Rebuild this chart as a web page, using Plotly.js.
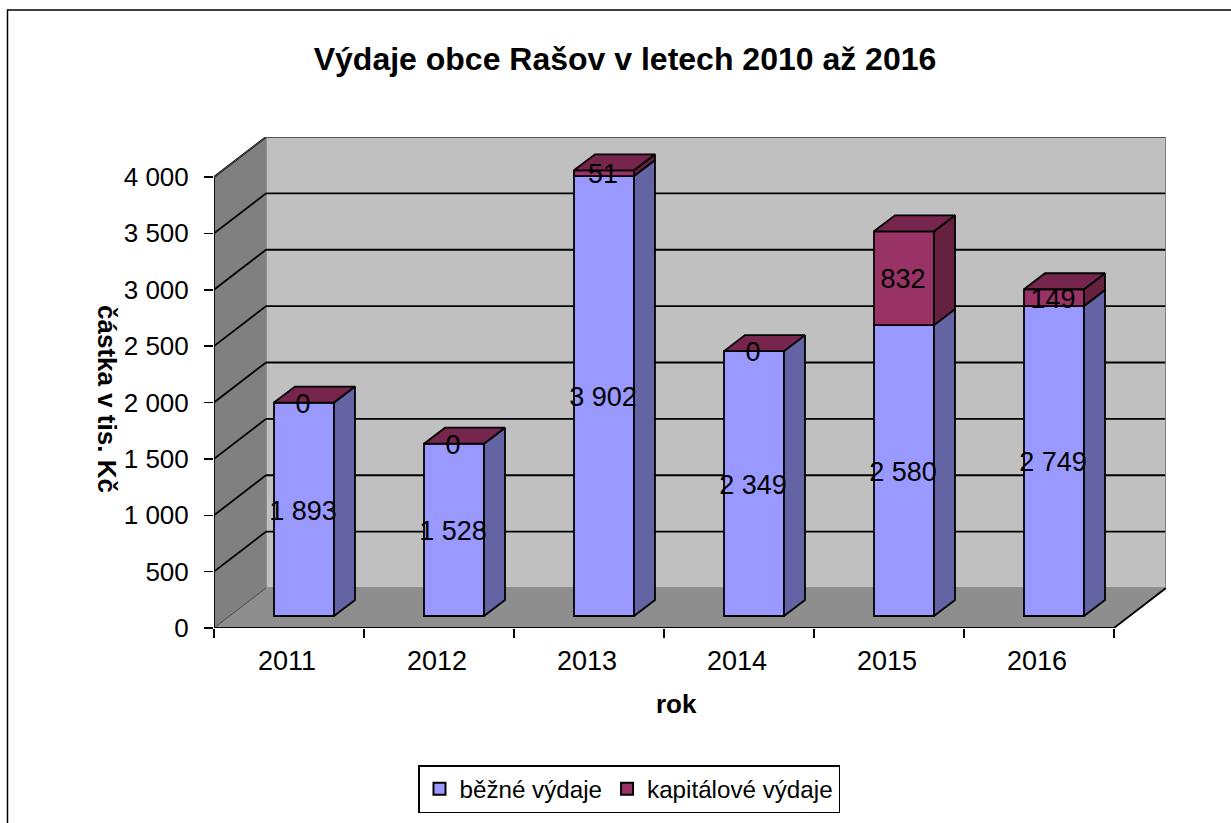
<!DOCTYPE html>
<html>
<head>
<meta charset="utf-8">
<script src="https://cdn.plot.ly/plotly-3.0.1.min.js"></script>
<style>html,body{margin:0;padding:0;background:#fff;overflow:hidden}#c{width:1231px;height:823px}</style>
</head>
<body>
<div id="c"></div>
<script>
const years = ['2011','2012','2013','2014','2015','2016'];
const bezne = [1893,1528,3902,2349,2580,2749];
const kapitalove = [0,0,51,0,832,149];
const yTicks = [0,500,1000,1500,2000,2500,3000,3500,4000];
const yTickLabels = ['0','500','1 000','1 500','2 000','2 500','3 000','3 500','4 000'];
const seriesNames = ['běžné výdaje','kapitálové výdaje'];

// pixel geometry of the oblique projection
const W=1231,H=823,L=214,T=137,R=1166,B=628;
const catPx=150, unitPx=451/4000;
const wallDx=(R-L-900)/catPx, wallDy=40/unitPx;      // depth of the whole box, in axis units
const barDx=15/catPx, barDy=12/unitPx;               // offset of bar front from front plane
const sideDx=21/catPx, sideDy=16/unitPx;             // bar depth
const barW=0.4;
const font='"Liberation Sans", Arial, sans-serif';
const xMin=-0.5, xMax=xMin+(R-L)/catPx, yMax=(B-T)/unitPx;
const xFront=xMin+6;

const ln='#000000';
function poly(xs,ys,fill,lineW,lineC){
  return {type:'path',xref:'x',yref:'y',layer:'below',
    path:'M'+xs.map((x,i)=>x+' '+ys[i]).join('L')+'Z',
    fillcolor:fill,line:{color:lineC||fill,width:lineW||0}};
}
function seg(x0,y0,x1,y1,w,c,layer){
  return {type:'line',xref:'x',yref:'y',layer:layer||'below',x0,y0,x1,y1,line:{color:c||ln,width:w||1.5}};
}
const shapes=[];
// back wall, side wall, floor
shapes.push(poly([xMin+wallDx,xMax,xMax,xMin+wallDx],[wallDy,wallDy,yMax,yMax],'#c0c0c0',1.5,'#808080'));
shapes.push(poly([xMin,xMin+wallDx,xMin+wallDx,xMin],[0,wallDy,yMax,4000],'#808080'));
shapes.push(poly([xMin,xFront,xMax,xMin+wallDx],[0,0,wallDy,wallDy],'#8e8e8e'));
// grid
yTicks.slice(1).forEach(v=>{
  shapes.push(seg(xMin,v,xMin+wallDx,v+wallDy,1.8));
  shapes.push(seg(xMin+wallDx,v+wallDy,xMax,v+wallDy,1.8));
});
shapes.push(seg(xMin,0,xMin+wallDx,wallDy,1,'#444444'));
shapes.push(seg(xMin+wallDx,yMax,xMax,yMax,2,'#555555'));
// axis lines
shapes.push(seg(xMin,0,xMin,4000,1.8));
shapes.push(seg(xMin,0,xFront,0,1.8));
shapes.push(seg(xFront,0,xMax,wallDy,1.8));
shapes.push(seg(xMax,wallDy,xMax,yMax,1.5,'#808080'));
shapes.push(seg(xMin,4000,xMin+wallDx,yMax,1,'#555555'));
// outer chart border, open on the right and bottom edges as cropped
const px=v=>(v-L)/(R-L), py=v=>(B-v)/(B-T);
shapes.push({type:'path',xref:'paper',yref:'paper',
  path:`M${px(7.5)} ${py(H+5)}L${px(7.5)} ${py(10)}L${px(W+5)} ${py(10)}`,
  line:{color:'#000',width:1.5}});

const cx=years.map((_,i)=>i+barDx);
const baseB=years.map(()=>barDy);
const baseK=bezne.map(v=>v+barDy);
const fmt=v=>String(v).replace(/\B(?=(\d{3})+$)/g,' ');

const traces=[];
traces.push({type:'bar',name:seriesNames[0],x:cx,y:bezne,base:baseB,width:barW,
  marker:{color:'#9999ff',line:{color:'#000',width:1.8}},hoverinfo:'skip'});
traces.push({type:'bar',name:seriesNames[1],x:cx,y:kapitalove,base:baseK,width:barW,
  marker:{color:'#993366',line:{color:'#000',width:1.8}},hoverinfo:'skip'});

function face(xs,ys,fill){
  traces.push({type:'scatter',mode:'lines',x:xs.concat(xs[0]),y:ys.concat(ys[0]),fill:'toself',
    fillcolor:fill,line:{color:'#000',width:1.8},showlegend:false,hoverinfo:'skip'});
}
years.forEach((_,i)=>{
  const x0=cx[i]-barW/2,x1=cx[i]+barW/2;
  const yb=barDy,ym=bezne[i]+barDy,yt=ym+kapitalove[i];
  face([x1,x1+sideDx,x1+sideDx,x1],[yb,yb+sideDy,ym+sideDy,ym],'#6464a5');
  if(kapitalove[i]>0) face([x1,x1+sideDx,x1+sideDx,x1],[ym,ym+sideDy,yt+sideDy,yt],'#66213f');
  face([x0,x1,x1+sideDx,x0+sideDx],[yt,yt,yt+sideDy,yt+sideDy],'#76264d');
});
const labelX=cx.map(v=>v-0.007);
const labelDrop=3.5/unitPx;   // optical centring of the data labels
traces.push({type:'scatter',mode:'text',showlegend:false,hoverinfo:'skip',cliponaxis:false,
  x:labelX,y:bezne.map((v,i)=>baseB[i]+v/2-labelDrop),text:bezne.map(fmt),textposition:'middle center',
  textfont:{family:font,size:27,color:'#000'}});
traces.push({type:'scatter',mode:'text',showlegend:false,hoverinfo:'skip',cliponaxis:false,
  x:labelX,y:kapitalove.map((v,i)=>baseK[i]+v/2-labelDrop),text:kapitalove.map(fmt),textposition:'middle center',
  textfont:{family:font,size:27,color:'#000'}});

const layout={
  width:W,height:H,autosize:false,
  paper_bgcolor:'#fff',plot_bgcolor:'rgba(0,0,0,0)',
  margin:{l:L,r:W-R,t:T,b:H-B,pad:0},
  barmode:'overlay',
  font:{family:font,color:'#000'},
  title:{text:'Výdaje obce Rašov v letech 2010 až 2016',font:{family:font,size:32,color:'#000',weight:'bold'},
    x:625/W,xanchor:'center',y:1-59/H,yanchor:'middle'},
  xaxis:{range:[xMin,xMax],showgrid:false,zeroline:false,showline:false,
    tickmode:'array',tickvals:years.map((_,i)=>i-0.013),ticktext:years,ticks:'',ticklen:0,ticklabelstandoff:14,
    tickfont:{family:font,size:27,color:'#000'},
    minor:{tickmode:'array',tickvals:[0,1,2,3,4,5,6].map(v=>v-0.5),ticks:'outside',ticklen:9,tickwidth:1.5,tickcolor:'#000',showgrid:false}},
  yaxis:{range:[0,yMax],showgrid:false,zeroline:false,showline:false,
    tickmode:'array',tickvals:yTicks,ticktext:yTickLabels,ticks:'outside',ticklen:9,tickwidth:1.5,tickcolor:'#000',ticklabelstandoff:10,
    tickfont:{family:font,size:26,color:'#000'}},
  shapes,
  annotations:[
    {xref:'paper',yref:'paper',x:px(676),y:py(704),text:'<b>rok</b>',showarrow:false,xanchor:'center',yanchor:'middle',
      font:{family:font,size:26,color:'#000'}},
    {xref:'paper',yref:'paper',x:px(107),y:py(399),text:'<b>částka v tis. Kč</b>',textangle:90,showarrow:false,xanchor:'center',yanchor:'middle',
      font:{family:font,size:26,color:'#000'}}
  ],
  legend:{orientation:'h',xref:'container',yref:'container',x:418/W,xanchor:'left',y:1-765/H,yanchor:'top',
    bgcolor:'#fff',bordercolor:'#000',borderwidth:1.5,font:{family:font,size:24.2,color:'#000'},
    itemsizing:'constant',itemwidth:30,traceorder:'normal'},
  showlegend:true
};
Plotly.newPlot('c',traces,layout,{displayModeBar:false,staticPlot:true});
</script>
</body>
</html>
